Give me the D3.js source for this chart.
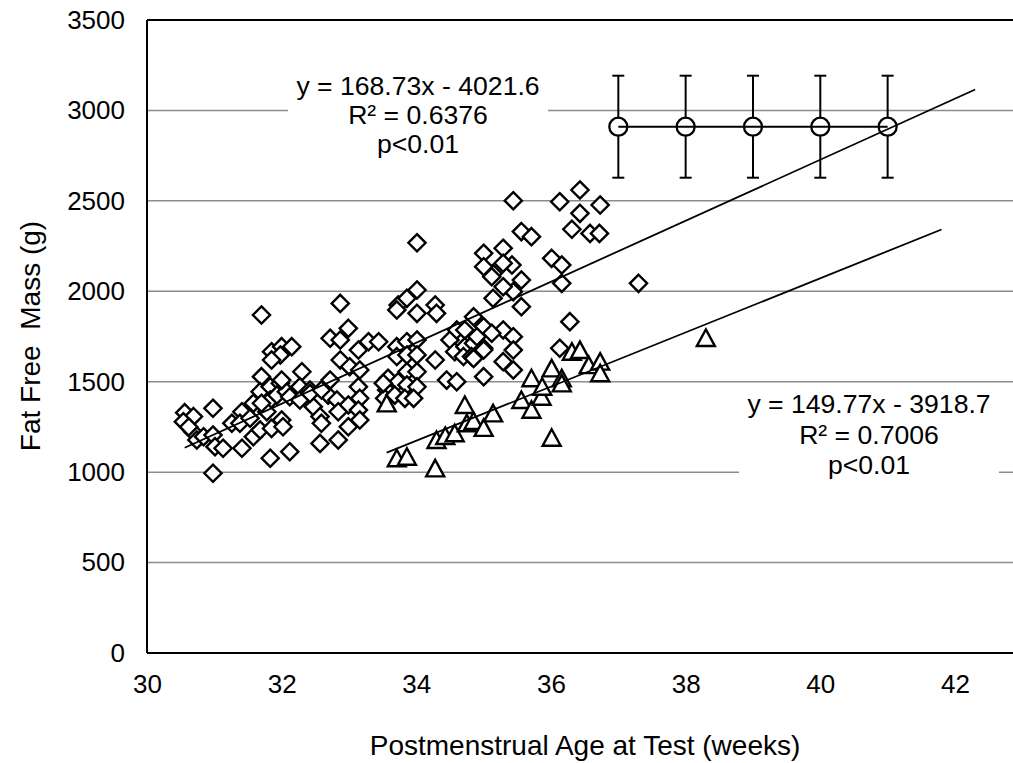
<!DOCTYPE html>
<html>
<head>
<meta charset="utf-8">
<script src="https://cdn.jsdelivr.net/npm/d3@7"></script>
<style>
  body { margin: 0; background: #fff; }
  svg { display: block; }
  text { font-family: "Liberation Sans", Arial, sans-serif; fill: #000; }
</style>
</head>
<body>
<svg id="chart" width="1013" height="763"></svg>
<script>
// ---- data ----
const xTicks = [30, 32, 34, 36, 38, 40, 42];
const yTicks = [0, 500, 1000, 1500, 2000, 2500, 3000, 3500];

// Group 1 (diamonds): postmenstrual age (weeks), fat free mass (g)
const diamondAge = [30.56,30.69,30.54,30.98,30.68,30.74,30.84,30.98,31.01,30.98,31.13,31.26,31.41,31.38,31.41,31.53,31.58,31.68,31.83,32.12,31.70,31.68,31.83,31.98,31.83,31.93,32.07,32.00,31.85,31.78,31.58,31.70,31.85,32.00,32.15,31.98,31.85,31.70,30.62,
32.87,32.99,32.72,32.87,33.14,33.29,33.44,32.87,33.01,33.16,32.30,32.72,33.14,32.27,32.42,32.69,32.12,32.27,32.47,32.82,32.99,33.16,33.14,32.57,32.59,32.84,33.16,32.99,32.84,32.57,32.02,32.42,32.59,32.00,
34.01,33.73,33.86,33.71,34.01,34.28,34.30,33.71,33.86,34.01,33.71,33.86,34.01,34.28,33.86,34.01,33.58,33.73,33.86,34.01,33.56,33.53,33.68,33.83,33.96,34.01,33.51,
34.50,34.60,34.72,34.85,34.57,34.72,34.85,34.70,34.82,34.45,34.60,35.00,35.29,35.42,35.14,35.00,35.56,35.56,35.44,35.29,35.14,35.56,35.00,34.90,35.29,35.44,34.87,35.00,35.29,35.44,35.00,35.44,35.71,35.12,35.12,35.00,35.44,35.29,34.85,
36.13,36.43,36.73,36.43,36.31,36.58,36.72,36.01,36.16,36.16,37.30,36.28,36.13];
const diamondFFM = [1329,1307,1279,1353,1224,1178,1196,1205,1141,994,1132,1270,1334,1270,1132,1298,1196,1233,1077,1113,1528,1445,1472,1491,1399,1426,1445,1288,1242,1334,1381,1869,1666,1694,1694,1648,1620,1381,1250,
1933,1795,1740,1731,1675,1721,1721,1620,1583,1565,1555,1509,1472,1472,1454,1426,1417,1399,1362,1399,1371,1408,1343,1307,1270,1334,1288,1251,1178,1159,1251,1435,1454,1509,
2007,1924,1961,1897,1878,1924,1878,1694,1721,1731,1639,1648,1648,1620,1555,1555,1519,1500,1482,1472,1454,1408,1426,1408,1408,2268,1491,
1731,1786,1786,1859,1666,1694,1712,1639,1639,1509,1500,2210,2238,2145,2099,2136,2330,2062,1998,2025,1961,1915,1804,1749,1786,1749,1639,1685,1611,1565,1528,2501,2302,2081,1768,1675,1675,2155,1629,
2495,2560,2477,2431,2343,2320,2320,2182,2145,2044,2044,1832,1685];

// Group 2 (triangles)
const triangleAge = [33.56,33.71,33.86,34.28,34.30,34.43,34.57,34.72,34.75,34.85,35.00,35.14,35.56,35.71,35.71,35.86,35.87,36.01,36.16,36.16,36.01,36.31,36.43,36.56,36.73,36.73,38.30];
const triangleFFM = [1380,1077,1085,1021,1178,1200,1215,1371,1270,1283,1245,1325,1399,1519,1345,1417,1472,1574,1519,1491,1190,1666,1675,1592,1611,1547,1742];

// Reference (circles with error bars)
const refAge = [37, 38, 39, 40, 41];
const refMean = [2910, 2910, 2910, 2910, 2910];
const refErr = [282, 282, 282, 282, 282];

// Linear trend lines: slope, intercept, x-range
const trend1 = { slope: 168.73, intercept: -4021.6, from: 30.56, to: 42.3 };
const trend2 = { slope: 149.77, intercept: -3918.7, from: 33.56, to: 41.8 };
const label1 = ["y = 168.73x - 4021.6", "R\u00b2 = 0.6376", "p<0.01"];
const label2 = ["y = 149.77x - 3918.7", "R\u00b2 = 0.7006", "p<0.01"];

// ---- drawing ----
const svg = d3.select("#chart");
const x = d3.scaleLinear().domain([30, 43]).range([147, 1022.3]);
const y = d3.scaleLinear().domain([0, 3500]).range([653, 20]);
const FS = 26;
const FS_LABEL = 26.6;
const FS_TITLE = 28;

// gridlines
svg.append("g").selectAll("line").data(yTicks.filter(d => d > 0 && d < 3500)).join("line")
  .attr("x1", x(30)).attr("x2", x(43))
  .attr("y1", d => y(d)).attr("y2", d => y(d))
  .attr("stroke", "#8c8c8c").attr("stroke-width", 1.5);

// top border
svg.append("line").attr("x1", x(30)).attr("x2", x(43)).attr("y1", y(3500)).attr("y2", y(3500))
  .attr("stroke", "#000").attr("stroke-width", 2);

// annotation boxes (white background hiding gridlines)
function labelBox(lines, cx, cy, step) {
  const g = svg.append("g");
  g.append("rect").attr("x", cx - 130).attr("y", cy - 45).attr("width", 260).attr("height", 92).attr("fill", "#fff");
  lines.forEach((t, i) => {
    g.append("text").attr("x", cx).attr("y", cy + (i - 1) * step)
      .attr("text-anchor", "middle").attr("dominant-baseline", "central")
      .attr("font-size", FS_LABEL).text(t);
  });
}
labelBox(label1, 418, 115, 29);
labelBox(label2, 869, 434.5, 30.7);

// axes
const fmt = d3.format("d");
const xAxis = d3.axisBottom(x).tickValues(xTicks).tickFormat(fmt).tickSize(0).tickPadding(22);
const gx = svg.append("g").attr("transform", `translate(0,${y(0)})`).call(xAxis);
gx.select(".domain").attr("stroke", "#000").attr("stroke-width", 2).attr("d", `M${x(30)},0H${x(43)}`);
gx.selectAll("text").attr("font-size", FS).attr("font-family", "Liberation Sans, Arial, sans-serif").attr("fill", "#000");

const yAxis = d3.axisLeft(y).tickValues(yTicks).tickFormat(fmt).tickSize(0).tickPadding(22);
const gy = svg.append("g").attr("transform", `translate(${x(30)},0)`).call(yAxis);
gy.select(".domain").attr("stroke", "#000").attr("stroke-width", 2).attr("d", `M0,${y(0)}V${y(3500)}`);
gy.selectAll("text").attr("font-size", FS).attr("font-family", "Liberation Sans, Arial, sans-serif").attr("fill", "#000");

// axis titles
svg.append("text").attr("x", 585).attr("y", 745).attr("text-anchor", "middle")
  .attr("dominant-baseline", "central").attr("font-size", FS_TITLE).text("Postmenstrual Age at Test (weeks)");
svg.append("text").attr("transform", `translate(30,336) rotate(-90)`).attr("text-anchor", "middle")
  .attr("dominant-baseline", "central").attr("font-size", FS_TITLE).text("Fat Free  Mass (g)")
  .style("white-space", "pre");

// reference series: error bars, circles, connecting line
const ref = refAge.map((a, i) => ({ a, m: refMean[i], e: refErr[i] }));
const eb = svg.append("g").attr("stroke", "#000").attr("stroke-width", 2);
ref.forEach(d => {
  eb.append("line").attr("x1", x(d.a)).attr("x2", x(d.a)).attr("y1", y(d.m + d.e)).attr("y2", y(d.m - d.e));
  eb.append("line").attr("x1", x(d.a) - 6).attr("x2", x(d.a) + 6).attr("y1", y(d.m + d.e)).attr("y2", y(d.m + d.e));
  eb.append("line").attr("x1", x(d.a) - 6).attr("x2", x(d.a) + 6).attr("y1", y(d.m - d.e)).attr("y2", y(d.m - d.e));
});
svg.append("g").selectAll("circle").data(ref).join("circle")
  .attr("cx", d => x(d.a)).attr("cy", d => y(d.m)).attr("r", 9)
  .attr("fill", "#fff").attr("stroke", "#000").attr("stroke-width", 2.3);
svg.append("path").datum(ref)
  .attr("d", d3.line().x(d => x(d.a)).y(d => y(d.m)))
  .attr("fill", "none").attr("stroke", "#000").attr("stroke-width", 2);

// diamonds
const dPts = diamondAge.map((a, i) => [a, diamondFFM[i]]);
const dh = 8.6;
svg.append("g").selectAll("path").data(dPts).join("path")
  .attr("d", d => { const cx = x(d[0]), cy = y(d[1]);
    return `M${cx},${cy - dh}L${cx + dh},${cy}L${cx},${cy + dh}L${cx - dh},${cy}Z`; })
  .attr("fill", "#fff").attr("stroke", "#000").attr("stroke-width", 2.4).attr("stroke-linejoin", "miter");

// triangles
const tPts = triangleAge.map((a, i) => [a, triangleFFM[i]]);
svg.append("g").selectAll("path").data(tPts).join("path")
  .attr("d", d => { const cx = x(d[0]), cy = y(d[1]);
    return `M${cx},${cy - 8.5}L${cx + 9},${cy + 8}L${cx - 9},${cy + 8}Z`; })
  .attr("fill", "#fff").attr("stroke", "#000").attr("stroke-width", 2.4);

// trend lines
[trend1, trend2].forEach(t => {
  const pts = [t.from, t.to].map(a => [a, t.slope * a + t.intercept]);
  svg.append("path").datum(pts)
    .attr("d", d3.line().x(d => x(d[0])).y(d => y(d[1])))
    .attr("fill", "none").attr("stroke", "#000").attr("stroke-width", 1.8);
});
</script>
</body>
</html>
